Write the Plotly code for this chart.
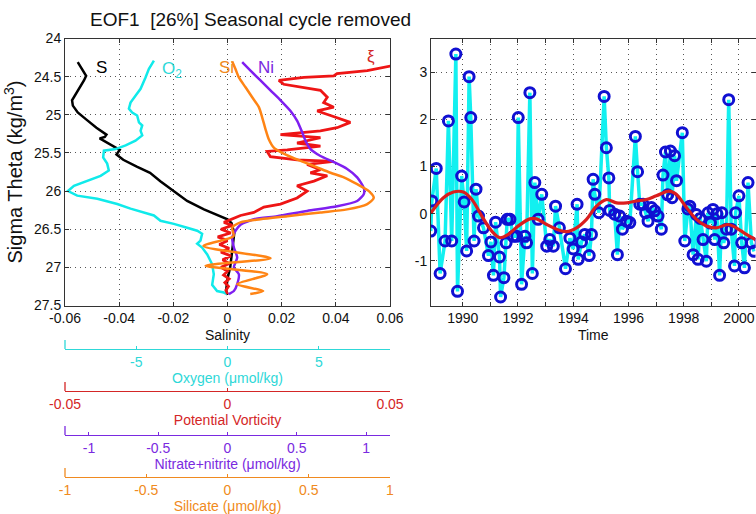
import plotly.graph_objects as go

W, H = 756, 514

# ---------------- Left panel: EOF1 vertical structure ----------------
sal_sigma = [24.31, 24.49, 24.55, 24.68, 24.81, 24.88, 24.97, 25.06, 25.17, 25.26, 25.29, 25.31,
             25.39, 25.46, 25.52, 25.59, 25.68, 25.76, 25.87, 26.0, 26.13, 26.24, 26.31, 26.37,
             26.42, 26.55, 26.7, 26.85, 27.0, 27.15, 27.3, 27.36]
sal_val = [-0.0553, -0.0522, -0.053, -0.0553, -0.0574, -0.0571, -0.0553, -0.0522, -0.0484, -0.0447,
           -0.0453, -0.0472, -0.0435, -0.0398, -0.041, -0.0385, -0.0335, -0.0286, -0.0248, -0.0199,
           -0.0149, -0.0087, -0.0037, 0.0, 0.0015, 0.0025, 0.002, 0.0015, 0.001, 0.0, -0.0005, 0.0]

oxy_sigma = [24.29, 24.40, 24.51, 24.60, 24.66, 24.75, 24.84, 24.92, 24.97, 25.01, 25.10, 25.14,
             25.21, 25.27, 25.34, 25.40, 25.45, 25.47, 25.56, 25.64, 25.73, 25.80, 25.86, 25.93,
             26.0, 26.06, 26.10, 26.17, 26.23, 26.28, 26.32, 26.39, 26.43, 26.48, 26.52, 26.56,
             26.65, 26.69, 26.74, 26.83, 26.96, 27.09, 27.23, 27.31, 27.33, 27.35]
oxy_val = [-4.03, -4.31, -4.49, -4.67, -4.76, -5.04, -5.31, -5.40, -5.22, -4.95, -4.85, -4.67,
           -4.76, -4.67, -5.04, -5.58, -6.13, -6.77, -6.81, -6.59, -6.50, -6.95, -7.68, -8.41,
           -8.74, -8.23, -7.13, -6.04, -5.31, -4.58, -4.03, -3.67, -2.94, -2.21, -1.66, -1.39,
           -1.48, -1.66, -1.39, -1.11, -0.84, -0.75, -0.84, -0.57, -0.2, -0.02]

si_sigma = [24.30, 24.40, 24.51, 24.64, 24.77, 24.90, 25.03, 25.19, 25.32, 25.43, 25.50, 25.56,
            25.62, 25.69, 25.76, 25.82, 25.91, 26.0, 26.09, 26.17, 26.24, 26.28, 26.33, 26.37,
            26.41, 26.48, 26.59, 26.72, 26.88, 26.98, 27.09, 27.22, 27.31, 27.35]
si_val = [0.029, 0.049, 0.070, 0.111, 0.152, 0.193, 0.213, 0.234, 0.254, 0.285, 0.336, 0.398,
          0.470, 0.552, 0.634, 0.716, 0.798, 0.870, 0.900, 0.86, 0.736, 0.572, 0.367, 0.203,
          0.08, 0.029, 0.037, -0.148, 0.265, -0.135, 0.244, 0.06, 0.22, 0.14]

ni_sigma = [24.31, 24.42, 24.55, 24.68, 24.81, 24.95, 25.08, 25.23, 25.34, 25.45, 25.54, 25.62,
            25.71, 25.82, 25.96, 26.04, 26.13, 26.20, 26.26, 26.33, 26.37, 26.44, 26.52, 26.61,
            26.74, 26.87, 27.0, 27.09, 27.22, 27.31, 27.35]
ni_val = [0.106, 0.166, 0.238, 0.310, 0.383, 0.455, 0.503, 0.539, 0.563, 0.599, 0.671, 0.768,
          0.864, 0.936, 0.984, 0.984, 0.936, 0.792, 0.575, 0.359, 0.190, 0.094, 0.058, 0.034,
          0.046, 0.070, 0.046, 0.082, 0.07, 0.046, 0.01]

pv_sigma = [24.36, 24.42, 24.46, 24.49, 24.51, 24.55, 24.60, 24.64, 24.68, 24.77, 24.84, 24.90,
            24.95, 25.01, 25.10, 25.17, 25.21, 25.26, 25.30, 25.37, 25.41, 25.46, 25.48, 25.55,
            25.59, 25.61, 25.65, 25.72, 25.76, 25.80, 25.87, 25.93, 26.0, 26.09, 26.17, 26.21,
            26.28, 26.32, 26.37, 26.41, 26.45, 26.5, 26.55, 26.6, 26.65, 26.7, 26.75, 26.8,
            26.85, 26.9, 26.95, 27.0, 27.05, 27.1, 27.15, 27.2, 27.25, 27.3, 27.35]
pv_val = [0.0502, 0.043, 0.0337, 0.0327, 0.0235, 0.0158, 0.0173, 0.0225, 0.0286, 0.0307, 0.0296,
          0.0327, 0.0276, 0.0317, 0.0378, 0.0337, 0.0286, 0.0163, 0.0286, 0.0214, 0.0286, 0.0184,
          0.0122, 0.0132, 0.0214, 0.0327, 0.0245, 0.0286, 0.0255, 0.0307, 0.0266, 0.0214, 0.0245,
          0.0214, 0.0163, 0.0112, 0.0081, 0.004, 0.0009, -0.0011, 0.0015, -0.002, 0.001, -0.003,
          0.0, -0.0025, 0.0005, -0.002, 0.001, -0.0015, 0.0005, -0.002, 0.0, -0.0012, 0.0005,
          -0.0008, 0.0003, -0.0005, 0.0]

sigma_ticks = [24, 24.5, 25, 25.5, 26, 26.5, 27, 27.5]
sal_ticks = [-0.06, -0.04, -0.02, 0, 0.02, 0.04, 0.06]
oxy_ticks = [-5, 0, 5]
pv_ticks = [-0.05, 0, 0.05]
ni_ticks = [-1, -0.5, 0, 0.5, 1]
si_ticks = [-1, -0.5, 0, 0.5, 1]

# ---------------- Right panel: EOF1 amplitude time series ----------------
ts_time = [1988.84, 1988.88, 1989.04, 1989.18, 1989.36, 1989.48, 1989.60, 1989.75, 1989.81, 1989.96,
           1990.05, 1990.14, 1990.23, 1990.29, 1990.41, 1990.48, 1990.57, 1990.75, 1990.93, 1991.02,
           1991.11, 1991.19, 1991.33, 1991.37, 1991.49, 1991.57, 1991.61, 1991.71, 1991.83, 1991.95,
           1992.01, 1992.13, 1992.25, 1992.31, 1992.43, 1992.52, 1992.61, 1992.73, 1992.86, 1993.04,
           1993.15, 1993.28, 1993.36, 1993.50, 1993.72, 1993.88, 1994.00, 1994.14, 1994.18, 1994.30,
           1994.42, 1994.58, 1994.66, 1994.72, 1994.78, 1994.93, 1995.12, 1995.20, 1995.29, 1995.32,
           1995.50, 1995.60, 1995.68, 1995.78, 1995.93, 1996.05, 1996.25, 1996.33, 1996.41, 1996.53,
           1996.62, 1996.71, 1996.83, 1996.95, 1997.07, 1997.19, 1997.25, 1997.34, 1997.42, 1997.52,
           1997.58, 1997.67, 1997.74, 1997.95, 1998.04, 1998.15, 1998.22, 1998.34, 1998.46, 1998.52,
           1998.60, 1998.70, 1998.82, 1998.88, 1998.97, 1999.06, 1999.12, 1999.20, 1999.30, 1999.38,
           1999.45, 1999.55, 1999.63, 1999.72, 1999.84, 1999.88, 2000.00, 2000.10, 2000.20, 2000.33,
           2000.45, 2000.55]
ts_value = [-0.37, 0.27, 0.96, -1.27, -0.58, 1.97, -0.58, 3.39, -1.65, 0.80,
            0.25, -0.79, 2.91, 2.04, -0.58, 0.52, -0.05, -0.30, -0.89, -0.60,
            -1.31, -0.18, -0.92, -1.77, -1.36, -0.62, -0.12, -0.12, -0.48, -0.48,
            2.04, -1.50, -0.48, -0.62, 2.57, -1.27, 0.66, -0.12, 0.41, -0.69,
            -0.55, -0.69, 0.16, -0.30, -1.17, -0.52, -0.75, 0.20, -0.97, -0.60,
            -0.44, -0.89, -0.44, 0.73, 0.41, 0.02, 2.49, 1.40, 0.76, 0.07,
            -0.01, -0.87, -0.05, -0.33, -0.16, -0.19, 1.64, 0.89, 0.20, 0.20,
            0.02, -0.16, 0.13, 0.06, -0.05, -0.33, 0.82, 1.31, 0.40, 1.33,
            0.34, 1.23, 0.70, 1.72, -0.58, 0.10, 0.16, -0.87, -0.02, -0.97,
            -0.10, -0.55, -1.01, 0.02, -0.20, 0.09, -0.55, 0.00, -1.31, 0.02,
            -0.62, -0.33, 2.42, -0.33, -1.11, 0.02, 0.38, -0.62, -1.15, 0.66,
            -0.62, -0.80]

smooth_time = [1988.84, 1989.30, 1989.66, 1990.02, 1990.33, 1990.69, 1991.05, 1991.35, 1991.65,
               1992.01, 1992.43, 1992.67, 1993.04, 1993.40, 1993.76, 1994.12, 1994.48, 1994.84,
               1995.20, 1995.57, 1995.93, 1996.29, 1996.65, 1997.01, 1997.47, 1997.73, 1998.10,
               1998.46, 1998.82, 1999.18, 1999.60, 1999.90, 2000.27, 2000.60]
smooth_value = [0.01, 0.34, 0.46, 0.46, 0.30, -0.05, -0.37, -0.51, -0.44, -0.26, -0.11, -0.11,
                -0.23, -0.33, -0.38, -0.30, -0.12, 0.16, 0.30, 0.23, 0.23, 0.27, 0.30, 0.38,
                0.48, 0.41, 0.13, -0.12, -0.26, -0.30, -0.23, -0.30, -0.44, -0.55]

year_ticks = [1990, 1992, 1994, 1996, 1998, 2000]
year_minor = [1991, 1993, 1995, 1997, 1999]
amp_ticks = [-1, 0, 1, 2, 3]

# ---------------- styling ----------------
FONT = "Liberation Sans, Arial, Helvetica, sans-serif"
C_S, C_O, C_PV, C_NI, C_SI = "#000000", "#10EAEA", "#EE1515", "#7F1FF0", "#FF8414"
T_O, T_PV, T_NI, T_SI = "#2ED8D8", "#D42626", "#7A2AE0", "#F08A20"
GRID = "#555555"
DOT = "1px,4px"


def fx(px):
    return px / W


def fy(py):
    return 1 - py / H


L_X0, L_X1 = 65, 390
R_X0, R_X1 = 431, 755.5
Y_TOP, Y_BOT = 38.5, 305.5


def fmt(v):
    return "%g" % v


fig = go.Figure()

fig.add_trace(go.Scatter(x=sal_val, y=sal_sigma, mode="lines", line=dict(color=C_S, width=2.5),
                         xaxis="x", yaxis="y", showlegend=False))
fig.add_trace(go.Scatter(x=oxy_val, y=oxy_sigma, mode="lines", line=dict(color=C_O, width=2.5),
                         xaxis="x3", yaxis="y", showlegend=False))
fig.add_trace(go.Scatter(x=ni_val, y=ni_sigma, mode="lines",
                         line=dict(color=C_NI, width=2.5, shape="spline", smoothing=0.6),
                         xaxis="x5", yaxis="y", showlegend=False))
fig.add_trace(go.Scatter(x=pv_val, y=pv_sigma, mode="lines", line=dict(color=C_PV, width=2.8),
                         xaxis="x4", yaxis="y", showlegend=False))
fig.add_trace(go.Scatter(x=si_val, y=si_sigma, mode="lines",
                         line=dict(color=C_SI, width=2.5, shape="spline", smoothing=0.7),
                         xaxis="x6", yaxis="y", showlegend=False))

fig.add_trace(go.Scatter(x=ts_time, y=ts_value, mode="lines+markers",
                         line=dict(color="#12F0F0", width=3.5),
                         marker=dict(symbol="circle-open", size=10, color="#1010D2",
                                     line=dict(width=3, color="#1010D2")),
                         xaxis="x2", yaxis="y2", showlegend=False))
fig.add_trace(go.Scatter(x=smooth_time, y=smooth_value, mode="lines",
                         line=dict(color="#DA1E1E", width=3.2, shape="spline"),
                         xaxis="x2", yaxis="y2", showlegend=False))

axis_common = dict(showline=True, linecolor="#333333", linewidth=1, ticks="inside", ticklen=4,
                   tickcolor="#333333", tickfont=dict(family=FONT, size=14, color="#111111"),
                   zeroline=False, showgrid=True, gridcolor=GRID, griddash=DOT, gridwidth=1,
                   mirror="ticks", automargin=False)

fig.update_layout(
    width=W, height=H, margin=dict(l=0, r=0, t=0, b=0, autoexpand=False),
    paper_bgcolor="white", plot_bgcolor="white",
    font=dict(family=FONT, size=14, color="#111111"),
    xaxis=dict(domain=[fx(L_X0), fx(L_X1)], range=[-0.06, 0.06], anchor="y",
               tickvals=sal_ticks, ticktext=[fmt(v) for v in sal_ticks],
               title=dict(text="Salinity", standoff=4, font=dict(size=14)), **axis_common),
    yaxis=dict(domain=[fy(Y_BOT), fy(Y_TOP)], range=[27.5, 24], anchor="x",
               tickvals=sigma_ticks, ticktext=[fmt(v) for v in sigma_ticks],
               title=dict(text="Sigma Theta (kg/m<sup>3</sup>)", standoff=5, font=dict(size=20)),
               **axis_common),
    xaxis2=dict(domain=[fx(R_X0), fx(R_X1)], range=[1988.85, 2000.6], anchor="y2",
                tickvals=year_ticks, ticktext=[str(v) for v in year_ticks],
                minor=dict(tickvals=year_minor, ticks="inside", ticklen=4, tickcolor="#333333",
                           showgrid=True, gridcolor=GRID, griddash=DOT, gridwidth=1),
                title=dict(text="Time", standoff=4, font=dict(size=14)), **axis_common),
    yaxis2=dict(domain=[fy(Y_BOT), fy(Y_TOP)], range=[-1.95, 3.72], anchor="x2",
                tickvals=amp_ticks, ticktext=[fmt(v) for v in amp_ticks], **axis_common),
)

extra = [
    ("xaxis3", [-8.9, 8.9], oxy_ticks, "Oxygen (μmol/kg)", T_O, 349),
    ("xaxis4", [-0.05, 0.05], pv_ticks, "Potential Vorticity", T_PV, 391),
    ("xaxis5", [-1.173, 1.173], ni_ticks, "Nitrate+nitrite (μmol/kg)", T_NI, 435),
    ("xaxis6", [-1, 1], si_ticks, "Silicate (μmol/kg)", T_SI, 477),
]
shapes = []
for name, rng, ticks, title, col, py in extra:
    fig.update_layout(**{name: dict(
        overlaying="x", anchor="free", position=fy(py), domain=[fx(L_X0), fx(L_X1)],
        range=rng, side="bottom", showline=True, linecolor=col, linewidth=1.3,
        ticks="inside", ticklen=3, tickcolor=col, tickwidth=1.3, automargin=False,
        tickvals=ticks, ticktext=[fmt(v) for v in ticks],
        tickfont=dict(family=FONT, size=14, color=col), showgrid=False, zeroline=False,
        title=dict(text=title, standoff=4, font=dict(family=FONT, size=14, color=col)),
    )})
    shapes.append(dict(type="line", xref="paper", yref="paper", x0=fx(L_X0), x1=fx(L_X0),
                       y0=fy(py), y1=fy(py - 9), line=dict(color=col, width=1.3)))

fig.update_layout(shapes=shapes)

ann = [
    dict(text="EOF1\u00a0 [26%] Seasonal cycle removed", x=fx(88), y=fy(20), xanchor="left",
         font=dict(size=19, color="#111111")),
    dict(text="S", x=fx(101), y=fy(68), font=dict(size=17, color=C_S)),
    dict(text="O<sub>2</sub>", x=fx(172), y=fy(70), font=dict(size=17, color=T_O)),
    dict(text="Si", x=fx(226), y=fy(68), font=dict(size=17, color=T_SI)),
    dict(text="Ni", x=fx(266), y=fy(68), font=dict(size=17, color=T_NI)),
    dict(text="ξ", x=fx(371), y=fy(56), font=dict(size=17, color=T_PV)),
]
for a in ann:
    a.setdefault("xanchor", "center")
    a.setdefault("yanchor", "middle")
    fig.add_annotation(xref="paper", yref="paper", showarrow=False, **a)

fig.write_html("out.html", config={"displayModeBar": False},
               post_script="document.body.style.margin='0px';document.body.style.overflow='hidden';")
